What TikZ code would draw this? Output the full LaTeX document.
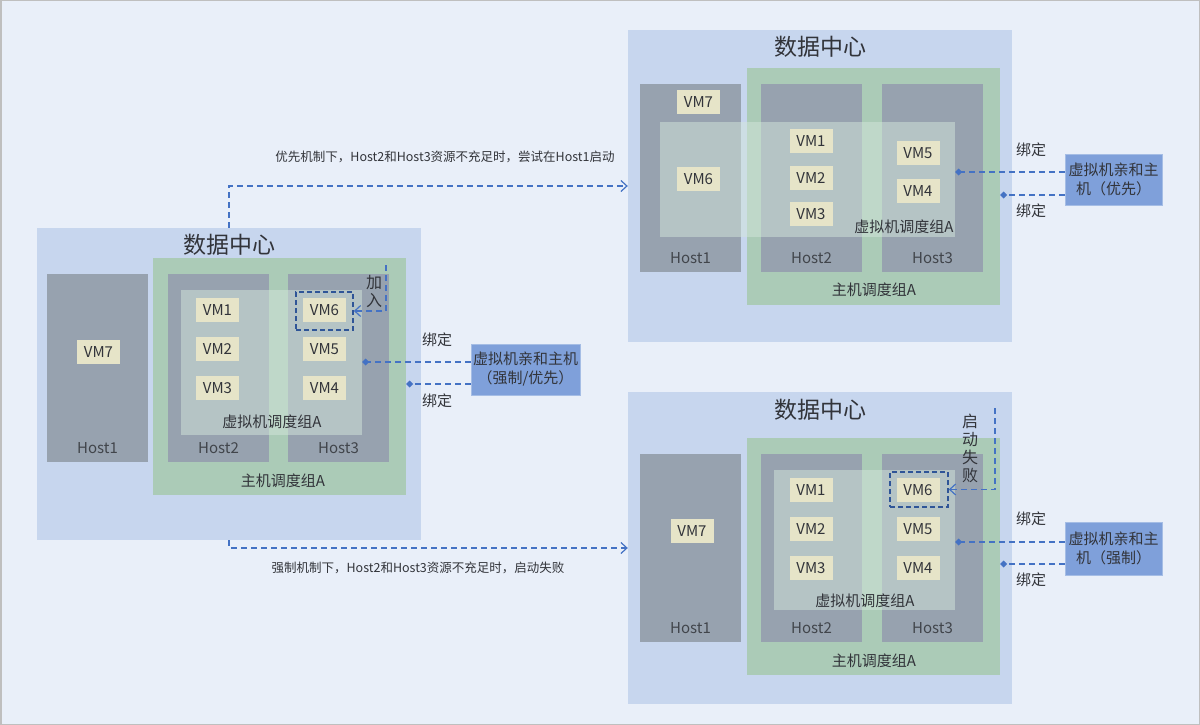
\documentclass[tikz,border=0pt]{standalone}
\usepackage{fontspec}
\setmainfont{Noto Sans CJK SC}
\usetikzlibrary{arrows.meta,calc}
\definecolor{bgblue}{RGB}{233,239,249}
\definecolor{dcblue}{RGB}{199,214,238}
\definecolor{hostgray}{RGB}{151,162,175}
\definecolor{grpgreen}{RGB}{171,203,183}
\definecolor{vgfill}{RGB}{212,230,220}
\definecolor{vmbeige}{RGB}{230,228,200}
\definecolor{affblue}{RGB}{127,160,218}
\definecolor{linkblue}{RGB}{68,114,196}
\definecolor{boxblue}{RGB}{47,85,151}
\definecolor{txt}{RGB}{50,52,58}

\begin{document}
\begin{tikzpicture}[x=1pt,y=-1pt]
        \tikzstyle{every node}=[inner sep=0pt, text=txt, font=\fontsize{15}{17}\selectfont]
        \tikzstyle{dc}=[fill=dcblue, minimum width=384pt, minimum height=312pt]
        \tikzstyle{title}=[font=\fontsize{23}{25}\selectfont]
        \tikzstyle{grp}=[fill=grpgreen, minimum width=253pt, minimum height=237pt]
        \tikzstyle{host}=[fill=hostgray, minimum width=101pt, minimum height=188pt]
        \tikzstyle{vg}=[fill=vgfill, fill opacity=0.5]
        \tikzstyle{vm}=[fill=vmbeige, minimum width=43pt, minimum height=24pt]
        \tikzstyle{hostlbl}=[text=txt!85!hostgray]
        \tikzstyle{sel}=[draw=boxblue, line width=1.6pt, dash pattern=on 5pt off 3pt]
        \tikzstyle{aff}=[fill=affblue, draw=affblue!70!white, align=center, font=\fontsize{15}{19}\selectfont]
        \tikzstyle{note}=[font=\fontsize{12.5}{14}\selectfont]
        \tikzstyle{vtext}=[align=center, font=\fontsize{16}{18}\selectfont]
        \tikzstyle{flow}=[draw=linkblue, line width=1.2pt, dash pattern=on 6pt off 4pt, -{Straight Barb[length=6pt,width=11pt]}]
        \tikzstyle{bind}=[draw=linkblue, line width=1.2pt, dash pattern=on 6pt off 4pt, -{Diamond[length=7pt,width=7pt]}]
        \useasboundingbox (0,0) rectangle (1200,725);
        \draw[fill=bgblue, draw=black!25, line width=1.5pt] (0.75,0.75) rectangle (1199.25,724.25);

        % left data centre
        \node[dc] (dcL) at (229,384) {};
        \node[title] (tL) at (229,245) {数据中心};
        \node[grp] (hgL) at (279.5,376.5) {};
        \node[host] (h1L) at (97.5,368) {};
        \node[host] (h2L) at (218.5,368) {};
        \node[host] (h3L) at (338.5,368) {};
        \node[vg, minimum width=181pt, minimum height=145pt] (vgL) at (271.5,362.5) {};
        \node[vm] (vm7L) at (98.5,352) {VM7};
        \node[vm] (vm1L) at (217.5,310) {VM1};
        \node[vm] (vm2L) at (217.5,349) {VM2};
        \node[vm] (vm3L) at (217.5,388) {VM3};
        \node[vm] (vm6L) at (324.5,310) {VM6};
        \node[vm] (vm5L) at (324.5,349) {VM5};
        \node[vm] (vm4L) at (324.5,388) {VM4};
        \node[sel, minimum width=57pt, minimum height=38pt] (box6L) at (324.5,311) {};
        \node (vglL) at (272,422) {虚拟机调度组A};
        \node[hostlbl] (hl1L) at ([yshift=14pt]h1L.south) {Host1};
        \node[hostlbl] (hl2L) at ([yshift=14pt]h2L.south) {Host2};
        \node[hostlbl] (hl3L) at ([yshift=14pt]h3L.south) {Host3};
        \node (hglL) at (283,481) {主机调度组A};
        \node[vtext] (joinL) at (374,291) {加\\入};
        \coordinate (jL) at (386,265);
        \draw[flow] (jL) |- (box6L.east);
        \node[aff, minimum width=109pt, minimum height=51pt] (affL) at (525.5,369.5) {虚拟机亲和主机\\（强制/优先）};
        \coordinate (bL1) at ($(affL.west)+(0,-7.5)$);
        \coordinate (bL2) at ($(affL.west)+(0,14.5)$);
        \draw[bind] (bL1) -- (bL1 -| vgL.east);
        \draw[bind] (bL2) -- (bL2 -| hgL.east);
        \node (bdL1) at (437,340) {绑定};
        \node (bdL2) at (437,401) {绑定};

        % top right data centre
        \node[dc] (dcT) at (820,186) {};
        \node[title] (tT) at (820,47) {数据中心};
        \node[grp] (hgT) at (873.5,186.5) {};
        \node[host] (h1T) at (690.5,178) {};
        \node[host] (h2T) at (811.5,178) {};
        \node[host] (h3T) at (932.5,178) {};
        \node[vg, minimum width=295pt, minimum height=115pt] (vgT) at (807.5,179.5) {};
        \node[vm] (vm7T) at (698.5,102) {VM7};
        \node[vm] (vm6T) at (698.5,179) {VM6};
        \node[vm] (vm1T) at (811,141) {VM1};
        \node[vm] (vm2T) at (811,178) {VM2};
        \node[vm] (vm3T) at (811,214) {VM3};
        \node[vm] (vm5T) at (918,153) {VM5};
        \node[vm] (vm4T) at (918,191) {VM4};
        \node (vglT) at (904,227) {虚拟机调度组A};
        \node[hostlbl] (hl1T) at ([yshift=14pt]h1T.south) {Host1};
        \node[hostlbl] (hl2T) at ([yshift=14pt]h2T.south) {Host2};
        \node[hostlbl] (hl3T) at ([yshift=14pt]h3T.south) {Host3};
        \node (hglT) at (874,290) {主机调度组A};
        \node[aff, minimum width=97pt, minimum height=51pt] (affT) at (1113.5,179.5) {虚拟机亲和主\\机（优先）};
        \coordinate (bT1) at ($(affT.west)+(0,-7.5)$);
        \coordinate (bT2) at ($(affT.west)+(0,15.5)$);
        \draw[bind] (bT1) -- (bT1 -| vgT.east);
        \draw[bind] (bT2) -- (bT2 -| hgT.east);
        \node (bdT1) at (1031,150) {绑定};
        \node (bdT2) at (1031,211) {绑定};

        % bottom right data centre
        \node[dc] (dcB) at (820,548) {};
        \node[title] (tB) at (820,410) {数据中心};
        \node[grp] (hgB) at (873.5,556.5) {};
        \node[host] (h1B) at (690.5,548) {};
        \node[host] (h2B) at (811.5,548) {};
        \node[host] (h3B) at (932.5,548) {};
        \node[vg, minimum width=181pt, minimum height=140pt] (vgB) at (864.5,540) {};
        \node[vm] (vm7B) at (692,531) {VM7};
        \node[vm] (vm1B) at (811,490) {VM1};
        \node[vm] (vm2B) at (811,529) {VM2};
        \node[vm] (vm3B) at (811,568) {VM3};
        \node[vm] (vm6B) at (918,490) {VM6};
        \node[vm] (vm5B) at (918,529) {VM5};
        \node[vm] (vm4B) at (918,568) {VM4};
        \node[sel, minimum width=58pt, minimum height=35pt] (box6B) at (919,489.5) {};
        \node (vglB) at (865,601) {虚拟机调度组A};
        \node[hostlbl] (hl1B) at ([yshift=14pt]h1B.south) {Host1};
        \node[hostlbl] (hl2B) at ([yshift=14pt]h2B.south) {Host2};
        \node[hostlbl] (hl3B) at ([yshift=14pt]h3B.south) {Host3};
        \node (hglB) at (874,661) {主机调度组A};
        \node[vtext] (failB) at (970,448) {启\\动\\失\\败};
        \coordinate (fB) at (995,408);
        \draw[flow] (fB) |- (box6B.east);
        \node[aff, minimum width=97pt, minimum height=53pt] (affB) at (1113.5,548.5) {虚拟机亲和主\\机（强制）};
        \coordinate (bB1) at ($(affB.west)+(0,-6.5)$);
        \coordinate (bB2) at ($(affB.west)+(0,15.5)$);
        \draw[bind] (bB1) -- (bB1 -| vgB.east);
        \draw[bind] (bB2) -- (bB2 -| hgB.east);
        \node (bdB1) at (1031,519) {绑定};
        \node (bdB2) at (1031,580) {绑定};

        % transitions
        \draw[flow] (dcL.north) |- (dcT.west);
        \draw[flow] (dcL.south) |- (dcB.west);
        \node[note] (capT) at (445,157) {优先机制下，Host2和Host3资源不充足时，尝试在Host1启动};
        \node[note] (capB) at (418,568) {强制机制下，Host2和Host3资源不充足时，启动失败};
\end{tikzpicture}
\end{document}
